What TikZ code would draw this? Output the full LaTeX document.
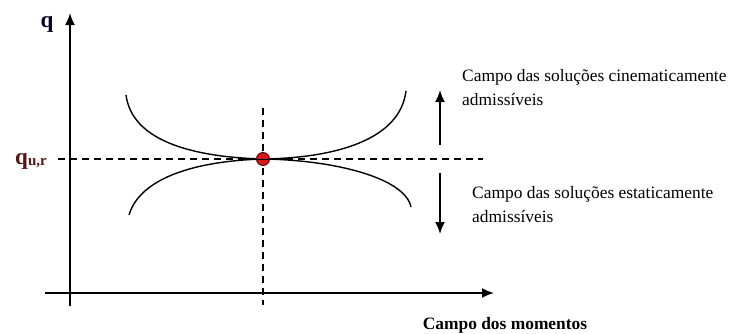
\documentclass[tikz,border=0pt]{standalone}
\usepackage{fontspec}
\setmainfont{Liberation Serif}
\usetikzlibrary{arrows.meta}
\definecolor{qred}{HTML}{5A1414}
\definecolor{dotred}{HTML}{D81818}
\begin{document}
\begin{tikzpicture}[x=1pt,y=-1pt,
  axis/.style={line width=1.8pt,-{Latex[length=12pt,width=10pt]}},
  guide/.style={line width=1.5pt,dash pattern=on 7pt off 5pt},
  curve/.style={line width=1.4pt},
  label/.style={inner sep=0pt,font=\fontsize{17.4}{24}\selectfont,align=left,anchor=north west}]
\path[use as bounding box] (0,0) rectangle (734,333);
% axes
\coordinate (yb) at (70,306);
\coordinate (yt) at (70,13);
\coordinate (xl) at (45,293);
\coordinate (xr) at (494,293);
\draw[axis] (yb) -- (yt);
\draw[axis] (xl) -- (xr);
% guides
\coordinate (hl) at (58,159);
\coordinate (hr) at (483,159);
\coordinate (vt) at (263,108);
\coordinate (vb) at (263,305);
\draw[guide] (hl) -- (hr);
\draw[guide] (vt) -- (vb);
% curves
\coordinate (P) at (263,159);
\coordinate (ul) at (126,95);
\coordinate (ur) at (406,91);
\coordinate (ll) at (129,215);
\coordinate (lr) at (411,207);
\draw[curve] (ul) .. controls (132,140) and (190,157) .. (P);
\draw[curve] (P) .. controls (335,158) and (400,140) .. (ur);
\draw[curve] (ll) .. controls (140,178) and (195,161) .. (P);
\draw[curve] (P) .. controls (335,160) and (405,178) .. (lr);
\node[circle,fill=dotred,draw=black!70!red,line width=0.9pt,minimum size=13pt,inner sep=0pt] (dot) at (P) {};
\draw[line width=0.9pt] (dot.west) -- (dot.east);
% direction arrows
\coordinate (a1b) at (440,145);
\coordinate (a1t) at (440,90);
\coordinate (a2t) at (440,173);
\coordinate (a2b) at (440,234);
\draw[axis] (a1b) -- (a1t);
\draw[axis] (a2t) -- (a2b);
% labels
\node[inner sep=0pt,font=\fontsize{23}{23}\selectfont\bfseries,text=black!85!blue] (q) at (47,24) {q};
\node[inner sep=0pt,text=qred,anchor=base] (qur) at (31,164) {{\fontsize{23}{23}\selectfont\bfseries q}{\fontsize{15}{15}\selectfont\bfseries\raisebox{-1.5pt}{u,r}}};
\node[label] (kin) at (462,69) {Campo das soluções cinematicamente\\admissíveis};
\node[label] (sta) at (472,186) {Campo das soluções estaticamente\\admissíveis};
\node[inner sep=0pt,font=\fontsize{17.4}{20}\selectfont\bfseries] (mom) at (505,325) {Campo dos momentos};
\end{tikzpicture}
\end{document}
